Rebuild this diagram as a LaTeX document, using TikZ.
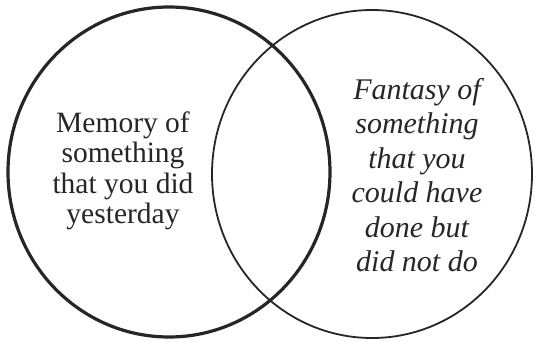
\documentclass[tikz,border=0pt]{standalone}
\usepackage{fontspec}
\setmainfont{Liberation Serif}
\newfontfamily\setface{Liberation Serif}
\usetikzlibrary{positioning}
\definecolor{inkgray}{HTML}{262626}

\begin{document}
\begin{tikzpicture}[x=1pt, y=1pt,
    every node/.style={align=center},
    ring/.style={draw=inkgray},
    lab/.style={text=inkgray, inner sep=0pt}]
  \useasboundingbox (0,0) rectangle (535,341);
  % the two sets
  \draw[ring, line width=3.2pt] (169,169) ellipse [x radius=161, y radius=165];
  \draw[ring, line width=1.8pt] (372,167) ellipse [x radius=160, y radius=164];
  \node[lab, font=\setface\fontsize{29.5}{30.5}\selectfont] (memory) at (123,170)
    {Memory of\\something\\that you did\\yesterday};
  \node[lab, font=\setface\fontsize{30}{34.5}\selectfont\itshape] (fantasy) at (417,166)
    {Fantasy of\\something\\that you\\could have\\done but\\did not do};
\end{tikzpicture}
\end{document}
